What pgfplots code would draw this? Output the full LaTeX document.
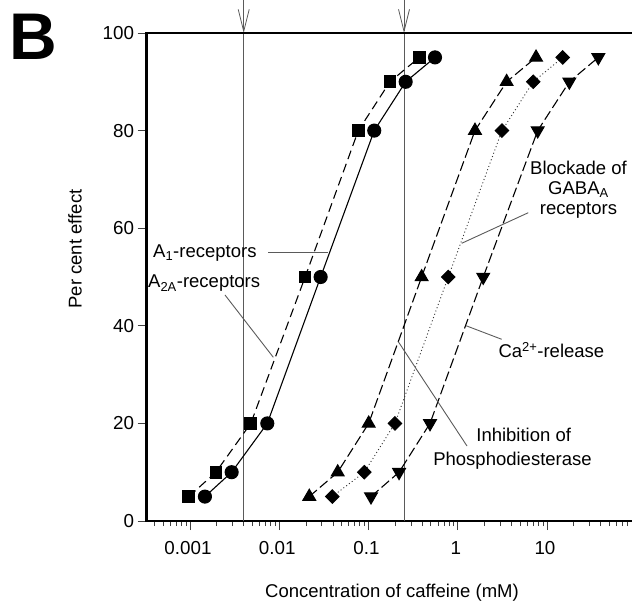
\documentclass[border=0pt]{standalone}
\usepackage{fontspec}
\setmainfont{Liberation Sans}
\usepackage{pgfplots}
\pgfplotsset{compat=1.18}
\usetikzlibrary{arrows.meta}

\definecolor{refgray}{RGB}{90,90,90}

\begin{document}
\begin{tikzpicture}[x=1pt,y=1pt]
\begin{axis}[
  at={(0,0)}, anchor=south west,
  scale only axis, width=489.75pt, height=488pt,
  xmode=log, xmin=3.256e-4, xmax=100, ymin=0, ymax=100,
  axis x line*=bottom, axis y line*=left,
  axis line style={line width=2.4pt, black, line cap=rect},
  clip=false,
  xtick={0.001,0.01,0.1,1,10,100},
  xticklabels={0.001,0.01,0.1,1,10,{}},
  minor xtick={0.0004,0.0005,0.0006,0.0007,0.0008,0.0009,
    0.002,0.003,0.004,0.005,0.006,0.007,0.008,0.009,
    0.02,0.03,0.04,0.05,0.06,0.07,0.08,0.09,
    0.2,0.3,0.4,0.5,0.6,0.7,0.8,0.9,
    2,3,4,5,6,7,8,9,20,30,40,50,60,70,80,90},
  ytick={0,20,40,60,80,100},
  tick align=outside,
  major tick length=9pt, minor tick length=5pt,
  every tick/.style={black!75, line width=0.8pt},
  tick label style={font=\fontsize{18.8}{21}\selectfont, black},
  xticklabel style={yshift=-8pt, xshift=-2pt},
  /pgf/number format/assume math mode=true,
]
% reference lines
\draw[refgray, line width=0.9pt] (axis cs:0.004,0) -- (axis cs:0.004,100);
\draw[refgray, line width=0.9pt] (axis cs:0.25,0) -- (axis cs:0.25,100);
\draw[refgray, line width=0.8pt, -{Straight Barb[length=22pt,width=11pt]}] (axis cs:0.004,106.8) -- (axis cs:0.004,100);
\draw[refgray, line width=0.8pt, -{Straight Barb[length=22pt,width=11pt]}] (axis cs:0.25,106.8) -- (axis cs:0.25,100);
% top border
\draw[black, line width=2.4pt, line cap=rect] (rel axis cs:0,1) -- (rel axis cs:1,1);

% A2A receptors (squares, dashed)
\addplot[black, line width=1.1pt, dash pattern=on 9pt off 5pt, mark=square*, mark size=5.8pt, mark options={solid}]
  coordinates {(0.00097,5)(0.00195,10)(0.0048,20)(0.0195,50)(0.0769,80)(0.174,90)(0.371,95)};
% A1 receptors (circles, solid)
\addplot[black, line width=1.1pt, mark=*, mark size=6.5pt]
  coordinates {(0.00147,5)(0.00293,10)(0.00735,20)(0.0291,50)(0.116,80)(0.261,90)(0.556,95)};
% Inhibition of phosphodiesterase (triangles)
\addplot[black, line width=1.1pt, dash pattern=on 10pt off 4pt, mark=triangle*, mark size=7.3pt, mark options={solid}]
  coordinates {(0.0217,5)(0.0452,10)(0.1005,20)(0.394,50)(1.56,80)(3.53,90)(7.54,95)};
% Blockade of GABA-A receptors (diamonds, dotted)
\addplot[black!80, line width=0.9pt, dash pattern=on 1pt off 2.5pt, mark=square*, mark size=4.8pt, mark options={solid, rotate=45, fill=black, draw=black}]
  coordinates {(0.0393,5)(0.0897,10)(0.198,20)(0.783,50)(3.13,80)(7.01,90)(15.0,95)};
% Ca2+ release (inverted triangles)
\addplot[black, line width=1.1pt, dash pattern=on 10pt off 4pt, mark=triangle*, mark size=7.3pt, mark options={solid, rotate=180}]
  coordinates {(0.1067,5)(0.22,10)(0.489,20)(1.93,50)(7.87,80)(17.8,90)(37.6,95)};
\end{axis}

% annotations (1pt = 1 px of the reference; origin at lower-left of axis box)
\begin{scope}[every node/.style={inner sep=0pt, font=\fontsize{18.5}{20}\selectfont}]
\node[anchor=base west] at (6.5,263) {A\textsubscript{1}-receptors};
\draw[refgray, line width=0.9pt] (121.5,268.3) -- (181,268.3);
\node[anchor=base west] at (1.5,233) {A\textsubscript{2A}-receptors};
\draw[refgray, line width=0.9pt] (78.5,226) -- (126.8,163.7);

\node[align=center, anchor=base] at (432,306) {Blockade of\\GABA\textsubscript{A}\\receptors};
\draw[refgray, line width=0.9pt] (381.8,308.3) -- (315.2,277.7);

\node[anchor=base west] at (351.8,163) {Ca\textsuperscript{2+}-release};
\draw[refgray, line width=0.9pt] (355.2,181.7) -- (319.5,195.3);

\node[anchor=base] at (377.2,79) {Inhibition of};
\node[anchor=base] at (366,55) {Phosphodiesterase};
\draw[refgray, line width=0.9pt] (251.8,179.3) -- (320.5,75);

\node[anchor=center] at (245.5,-72) {Concentration of caffeine (mM)};
\node[anchor=center, rotate=90] at (-71.5,272) {Per cent effect};
\node[anchor=base west, font=\fontsize{66}{66}\selectfont\bfseries] at (-137.3,461) {B};
\end{scope}

\pgfresetboundingbox
\useasboundingbox (-146.5,-84) rectangle (485.5,521);
\end{tikzpicture}
\end{document}
